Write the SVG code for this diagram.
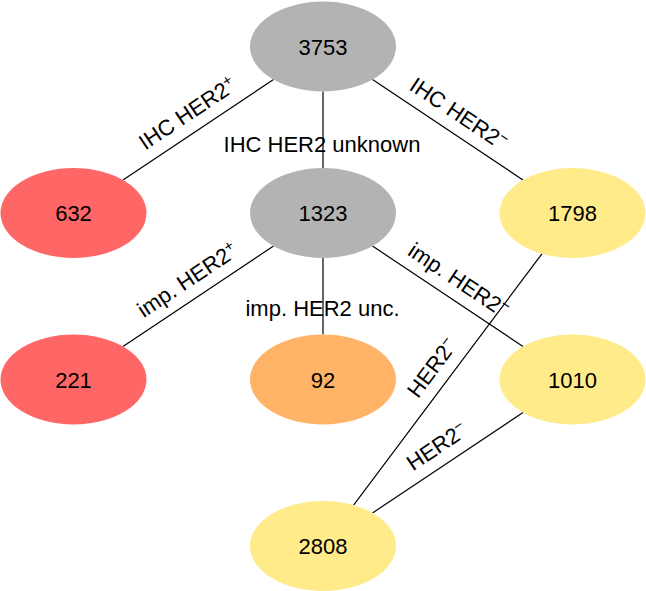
<svg xmlns="http://www.w3.org/2000/svg" width="646" height="591" viewBox="0 0 646 591">
<style>
.n{stroke:none}
.gray{fill:#b3b3b3}
.red{fill:#ff6666}
.orange{fill:#ffb366}
.yellow{fill:#ffeb8a}
.t{font-family:"Liberation Sans","DejaVu Sans",sans-serif;font-size:22px;fill:#000;text-anchor:middle}
.e line{stroke:#000;stroke-width:1.2}
.sup{font-size:15px}
</style>
<rect width="646" height="591" fill="#fff"/>
<g id="connectors" class="e">
<line x1="273.5" y1="79.55" x2="123" y2="179.95"/>
<line x1="323" y1="91.5" x2="323" y2="168"/>
<line x1="372.5" y1="79.55" x2="523" y2="179.95"/>
<line x1="273.5" y1="246.05" x2="123" y2="346.45"/>
<line x1="323" y1="258" x2="323" y2="334.5"/>
<line x1="372.5" y1="246.05" x2="523" y2="346.45"/>
<line x1="523" y1="412.55" x2="372.5" y2="512.95"/>
<line x1="541.9" y1="253.85" x2="353.6" y2="505.15"/>
</g>
<g id="edge-labels">
<text class="t" transform="translate(191.6,119.8) rotate(-33.7)">IHC HER2<tspan class="sup" baseline-shift="super">+</tspan></text>
<text class="t" x="322" y="151.5">IHC HER2 unknown</text>
<text class="t" transform="translate(454.4,119.8) rotate(33.7)">IHC HER2<tspan class="sup" baseline-shift="super">−</tspan></text>
<text class="t" transform="translate(191.6,286.3) rotate(-33.7)">imp. HER2<tspan class="sup" baseline-shift="super">+</tspan></text>
<text class="t" x="322.5" y="316">imp. HER2 unc.</text>
<text class="t" transform="translate(454.4,286.3) rotate(33.7)">imp. HER2<tspan class="sup" baseline-shift="super">−</tspan></text>
<text class="t" transform="translate(438.1,372.3) rotate(-53.2)">HER2<tspan class="sup" baseline-shift="super">−</tspan></text>
<text class="t" transform="translate(441,452.8) rotate(-33.7)">HER2<tspan class="sup" baseline-shift="super">−</tspan></text>
</g>
<g id="n3753"><ellipse class="n gray" cx="323" cy="46.5" rx="73" ry="45"/><text class="t" x="323" y="54.5">3753</text></g>
<g id="n632"><ellipse class="n red" cx="73.5" cy="213" rx="73" ry="45"/><text class="t" x="73.5" y="221">632</text></g>
<g id="n1323"><ellipse class="n gray" cx="323" cy="213" rx="73" ry="45"/><text class="t" x="323" y="221">1323</text></g>
<g id="n1798"><ellipse class="n yellow" cx="572.5" cy="213" rx="73" ry="45"/><text class="t" x="572.5" y="221">1798</text></g>
<g id="n221"><ellipse class="n red" cx="73.5" cy="379.5" rx="73" ry="45"/><text class="t" x="73.5" y="387.5">221</text></g>
<g id="n92"><ellipse class="n orange" cx="323" cy="379.5" rx="73" ry="45"/><text class="t" x="323" y="387.5">92</text></g>
<g id="n1010"><ellipse class="n yellow" cx="572.5" cy="379.5" rx="73" ry="45"/><text class="t" x="572.5" y="387.5">1010</text></g>
<g id="n2808"><ellipse class="n yellow" cx="323" cy="546" rx="73" ry="45"/><text class="t" x="323" y="554">2808</text></g>
</svg>
